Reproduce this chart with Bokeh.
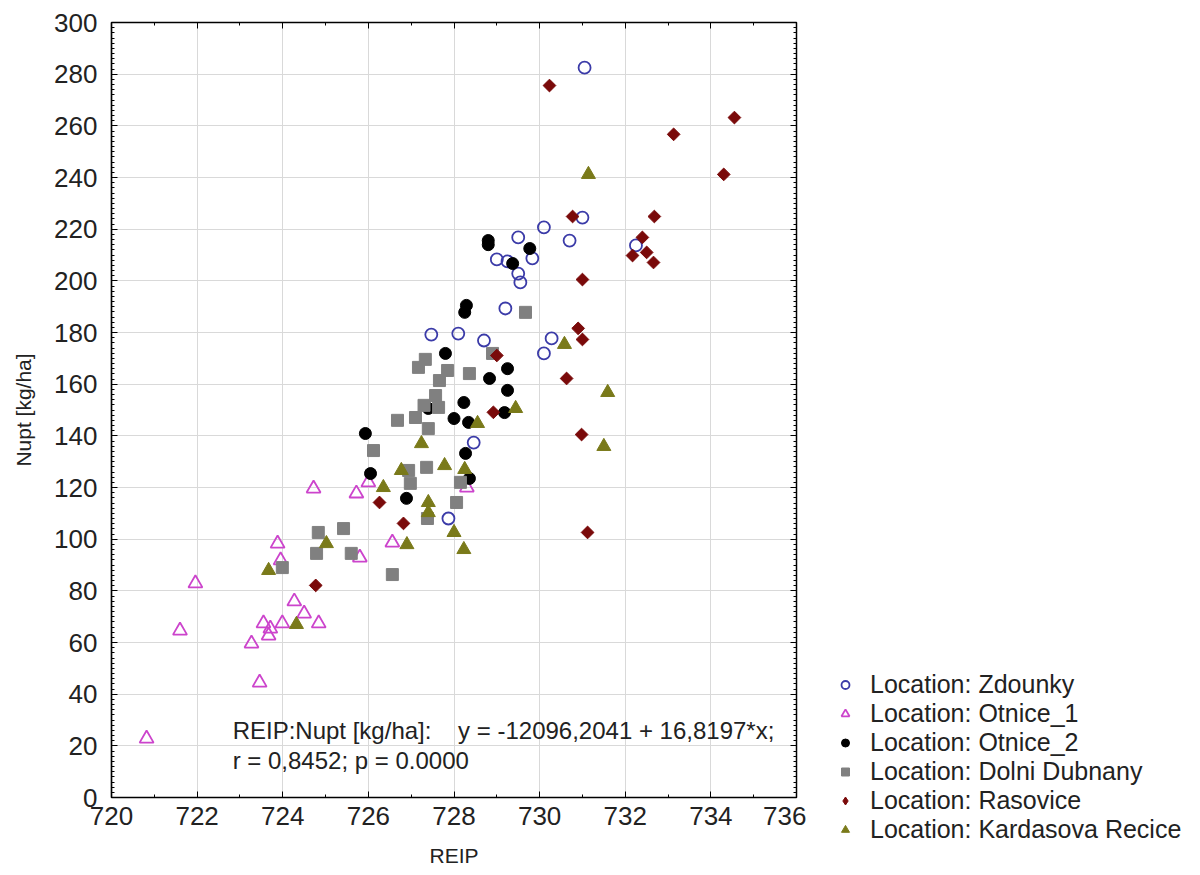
from math import pi
from jinja2 import Template
from bokeh.plotting import figure
from bokeh.models import Legend, LegendItem, Label, LinearAxis, Range1d, FixedTicker
from bokeh.embed import file_html
from bokeh.resources import INLINE

# ---------------- data ----------------
zdounky_x = [731.05, 730.1, 729.5, 731.0, 730.7, 732.25, 729.0, 729.25, 729.83, 729.5,
             729.55, 729.2, 727.47, 728.1, 728.7, 730.28, 730.1, 728.46, 727.87]
zdounky_y = [282.5, 220.7, 216.8, 224.5, 215.6, 213.7, 208.3, 207.5, 208.7, 202.8,
             199.4, 189.3, 179.2, 179.6, 176.9, 177.7, 171.9, 137.4, 108.0]

otnice1_x = [720.82, 721.6, 721.96, 723.27, 723.46, 723.55, 723.67, 723.71, 723.99, 724.27,
             724.5, 724.84, 723.88, 723.95, 724.72, 725.72, 725.8, 726.0, 726.56, 728.3]
otnice1_y = [22.8, 64.6, 82.9, 59.6, 44.5, 67.4, 62.7, 65.4, 67.4, 75.9,
             71.2, 67.4, 98.3, 91.8, 119.6, 117.7, 92.9, 122.0, 98.7, 120.0]

otnice2_x = [728.8, 728.8, 729.77, 729.37, 728.29, 728.25, 727.8, 729.25, 728.83, 729.25,
             728.23, 728.0, 728.34, 727.4, 729.18, 725.93, 726.05, 726.89, 728.27, 728.36]
otnice2_y = [215.6, 214.0, 212.5, 206.7, 190.5, 187.8, 171.9, 166.0, 162.2, 157.6,
             152.9, 146.7, 145.2, 150.6, 149.0, 140.9, 125.4, 115.8, 133.2, 123.5]

dolni_x = [729.67, 727.33, 727.17, 727.85, 727.66, 728.36, 728.9, 727.57, 727.3, 727.64,
           726.68, 727.1, 727.4, 726.12, 727.36, 726.94, 726.98, 728.06, 728.15, 727.38,
           725.42, 725.6, 726.56, 724.83, 724.79, 723.99]
dolni_y = [187.8, 169.6, 166.5, 165.3, 161.4, 164.1, 171.9, 155.6, 151.8, 151.0,
           146.0, 147.1, 142.8, 134.3, 127.8, 126.6, 121.6, 114.2, 122.0, 108.0,
           104.1, 94.5, 86.3, 102.6, 94.5, 89.0]

rasovice_x = [730.23, 734.55, 733.13, 734.3, 730.77, 732.68, 732.4, 732.17, 732.5, 732.66,
              731.0, 730.9, 731.0, 730.63, 729.0, 728.92, 730.98, 731.12, 726.82, 726.26, 724.77]
rasovice_y = [275.6, 263.2, 256.7, 241.2, 224.9, 224.9, 216.8, 209.8, 211.0, 207.1,
              200.5, 181.6, 177.3, 162.2, 171.1, 149.1, 140.5, 102.6, 106.1, 114.2, 82.1]

kardasova_x = [731.14, 730.58, 731.59, 731.5, 729.44, 728.55, 727.24, 727.78, 728.25, 726.77,
               726.35, 727.4, 727.4, 728.0, 728.23, 726.9, 725.02, 723.67, 724.32]
kardasova_y = [241.2, 175.4, 156.8, 135.9, 150.6, 144.8, 137.0, 128.5, 127.0, 126.6,
               120.0, 114.2, 110.3, 102.6, 96.0, 97.9, 98.3, 87.9, 67.0]

series_names = ["Location: Zdounky", "Location: Otnice_1", "Location: Otnice_2",
                "Location: Dolni Dubnany", "Location: Rasovice", "Location: Kardasova Recice"]

x_ticks = [720, 722, 724, 726, 728, 730, 732, 734, 736]
y_ticks = [0, 20, 40, 60, 80, 100, 120, 140, 160, 180, 200, 220, 240, 260, 280, 300]

eq_line1 = "REIP:Nupt [kg/ha]:\u00a0\u00a0\u00a0\u00a0y = -12096,2041 + 16,8197*x;"
eq_line2 = "r = 0,8452; p = 0.0000"

FONT = "Liberation Sans"
TXT = "#222222"

styles = [
    dict(marker="circle", size=12, fill_color=None, line_color="#3b3ba8", line_width=1.8),
    dict(marker="triangle", size=14, fill_color=None, line_color="#cc44cc", line_width=1.8),
    dict(marker="circle", size=12, fill_color="black", line_color="black"),
    dict(marker="square", size=12, fill_color="#808080", line_color="#808080"),
    dict(marker="square", size=9, angle=pi / 4, fill_color="#7a0a0a", line_color="#7a0a0a"),
    dict(marker="triangle", size=14, fill_color="#7a7a1a", line_color="#7a7a1a"),
]
# legend glyphs (the legend does not rotate markers, so the diamond is given directly)
legend_styles = [dict(st) for st in styles]
legend_styles[4] = dict(marker="diamond", size=12, fill_color="#7a0a0a", line_color="#7a0a0a")

series = [(zdounky_x, zdounky_y), (otnice1_x, otnice1_y), (otnice2_x, otnice2_y),
          (dolni_x, dolni_y), (rasovice_x, rasovice_y), (kardasova_x, kardasova_y)]

# ---------------- main plot ----------------
p = figure(width=806, height=875, output_backend="svg", toolbar_location=None,
           x_range=Range1d(720, 736), y_range=Range1d(0, 300),
           min_border_left=111, min_border_top=22, min_border_right=10, min_border_bottom=78,
           background_fill_color="white", border_fill_color="white")

p.outline_line_color = "black"
p.outline_line_width = 1.5

for ax in [p.xaxis[0], p.yaxis[0]]:
    ax.axis_line_color = "black"
    ax.axis_line_width = 1.2
    ax.major_tick_in = 6
    ax.major_tick_out = 0
    ax.minor_tick_in = 3
    ax.minor_tick_out = 0
    ax.major_label_text_font = FONT
    ax.major_label_text_font_size = "26px"
    ax.major_label_text_color = TXT
    ax.axis_label_text_font = FONT
    ax.axis_label_text_font_size = "21px"
    ax.axis_label_text_font_style = "normal"
    ax.axis_label_text_color = TXT

p.xaxis[0].ticker = FixedTicker(ticks=x_ticks, minor_ticks=list(range(720, 737)))
p.yaxis[0].ticker = FixedTicker(ticks=y_ticks, minor_ticks=list(range(0, 301, 2)))
p.xaxis[0].axis_label = "REIP"
p.yaxis[0].axis_label = "Nupt [kg/ha]"
p.xaxis[0].major_label_standoff = 9
p.yaxis[0].major_label_standoff = 14
p.xaxis[0].axis_label_standoff = 16
p.yaxis[0].axis_label_standoff = 16

for loc, tick in [("above", x_ticks), ("right", y_ticks)]:
    minor = list(range(720, 737)) if loc == "above" else list(range(0, 301, 2))
    ax = LinearAxis(ticker=FixedTicker(ticks=tick, minor_ticks=minor))
    ax.axis_line_color = "black"
    ax.major_tick_in = 6
    ax.major_tick_out = 0
    ax.minor_tick_in = 3
    ax.minor_tick_out = 0
    ax.major_label_text_font_size = "0px"
    ax.major_label_standoff = 0
    p.add_layout(ax, loc)

p.grid.grid_line_color = "#d9d9d9"
p.grid.grid_line_width = 1
p.xgrid.ticker = FixedTicker(ticks=x_ticks)
p.ygrid.ticker = FixedTicker(ticks=y_ticks)

for (xs, ys), st in zip(series, styles):
    p.scatter(xs, ys, **st)

p.add_layout(Label(x=722.83, y=25.9, text=eq_line1, text_font=FONT, text_font_size="24px",
                   text_baseline="middle", text_color=TXT))
p.add_layout(Label(x=722.83, y=14.3, text=eq_line2, text_font=FONT, text_font_size="24px",
                   text_baseline="middle", text_color=TXT))

# ---------------- legend panel (separate root placed to the right) ----------------
q = figure(width=394, height=875, output_backend="svg", toolbar_location=None,
           x_axis_type=None, y_axis_type=None, x_range=Range1d(0, 1), y_range=Range1d(0, 1),
           min_border=0, outline_line_color=None,
           background_fill_color="white", border_fill_color="white")
q.grid.visible = False
# same series drawn off-range (invisible) only to supply the legend glyphs
leg_renderers = [q.scatter(xs, ys, **st) for (xs, ys), st in zip(series, legend_styles)]
legend = Legend(items=[LegendItem(label=n, renderers=[r]) for n, r in zip(series_names, leg_renderers)],
                location=(29, 31), padding=0, margin=0, spacing=0,
                glyph_width=20, glyph_height=29, label_height=29, label_standoff=15,
                border_line_color=None, background_fill_alpha=0,
                label_text_font=FONT, label_text_font_size="25px", label_text_color=TXT)
q.add_layout(legend, "center")

TEMPLATE = Template("""{% extends base %}
{% block postamble %}<style>html, body {margin:0 !important; padding:0 !important;}
body {display:flex !important; flex-direction:row !important; align-items:flex-start !important;}</style>{% endblock %}""")

open("out.html", "w").write(file_html([p, q], INLINE, template=TEMPLATE))
